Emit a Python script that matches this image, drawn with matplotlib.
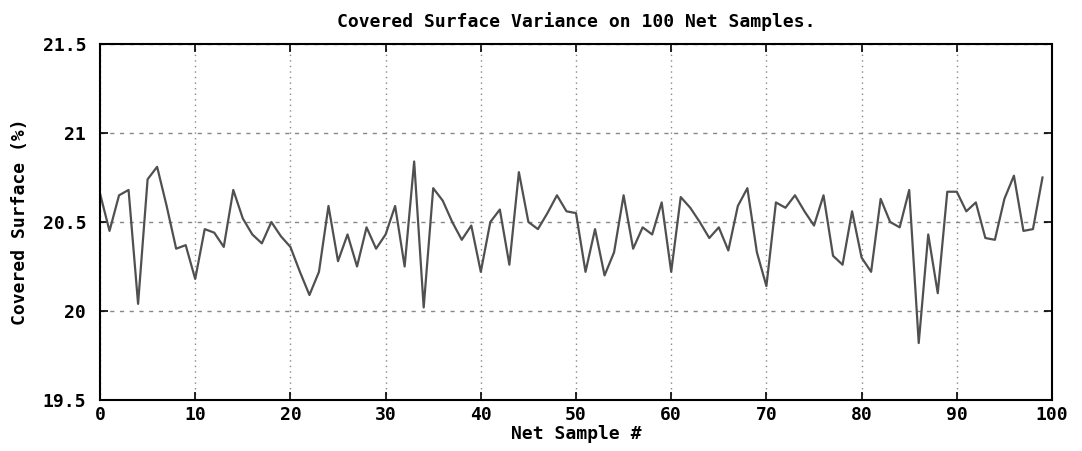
import matplotlib
matplotlib.use("Agg")
import matplotlib.pyplot as plt

# covered surface (%) for each of the 100 nets
samples = list(range(100))
surface = [
    20.66, 20.45, 20.65, 20.68, 20.04, 20.74, 20.81, 20.59, 20.35, 20.37,
    20.18, 20.46, 20.44, 20.36, 20.68, 20.52, 20.43, 20.38, 20.50, 20.42,
    20.36, 20.22, 20.09, 20.22, 20.59, 20.28, 20.43, 20.25, 20.47, 20.35,
    20.43, 20.59, 20.25, 20.84, 20.02, 20.69, 20.62, 20.50, 20.40, 20.48,
    20.22, 20.50, 20.57, 20.26, 20.78, 20.50, 20.46, 20.55, 20.65, 20.56,
    20.55, 20.22, 20.46, 20.20, 20.33, 20.65, 20.35, 20.47, 20.43, 20.61,
    20.22, 20.64, 20.58, 20.50, 20.41, 20.47, 20.34, 20.59, 20.69, 20.33,
    20.14, 20.61, 20.58, 20.65, 20.56, 20.48, 20.65, 20.31, 20.26, 20.56,
    20.30, 20.22, 20.63, 20.50, 20.47, 20.68, 19.82, 20.43, 20.10, 20.67,
    20.67, 20.56, 20.61, 20.41, 20.40, 20.63, 20.76, 20.45, 20.46, 20.75,
]
xticks = list(range(0, 101, 10))
yticks = [19.5, 20, 20.5, 21, 21.5]
ytick_labels = ["19.5", "20", "20.5", "21", "21.5"]

font = {"family": "DejaVu Sans Mono", "weight": "bold", "size": 13}

fig = plt.figure(figsize=(10.82, 4.51), dpi=100)
ax = fig.add_axes([100 / 1082, 1 - 400 / 451, 952 / 1082, 356 / 451])

ax.plot(samples, surface, color="#505050", linewidth=1.6)

ax.set_xlim(0, 100)
ax.set_ylim(19.5, 21.5)
ax.set_xticks(xticks)
ax.set_xticklabels([str(t) for t in xticks], fontdict=font)
ax.set_yticks(yticks)
ax.set_yticklabels(ytick_labels, fontdict=font)

ax.tick_params(direction="in", length=6, width=1.2, top=True, right=True)
ax.tick_params(axis="y", pad=10)
ax.tick_params(axis="x", pad=4)

# dotted verticals, dashed horizontals
ax.xaxis.grid(True, linestyle=(0, (1, 3)), color="#888888", linewidth=1)
ax.yaxis.grid(True, linestyle=(0, (3, 4)), color="#888888", linewidth=1)

for side in ax.spines.values():
    side.set_linewidth(1.5)

ax.set_title("Covered Surface Variance on 100 Net Samples.", fontdict=font, pad=12)
ax.set_xlabel("Net Sample #", fontdict=font, labelpad=1)
ax.set_ylabel("Covered Surface (%)", fontdict=font, labelpad=10)

fig.savefig("out.png", dpi=100)
